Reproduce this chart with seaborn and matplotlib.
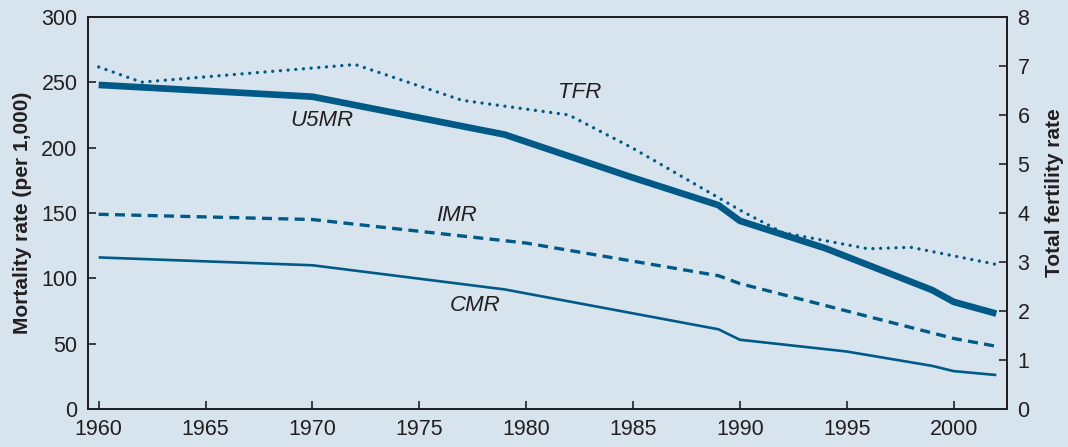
import matplotlib
matplotlib.use('Agg')
import matplotlib.pyplot as plt
import seaborn as sns
import pandas as pd

# ---- valores
anos_u5mr = [1960, 1970, 1979, 1981, 1985, 1989, 1990, 1994, 1999, 2000, 2002]
u5mr = [248, 239, 210, 199, 177, 156, 144, 123, 91, 82, 73]

anos_imr = [1960, 1970, 1980, 1989, 1990, 2000, 2002]
imr = [149, 145, 127, 102, 96, 54, 48]

anos_cmr = [1960, 1970, 1979, 1989, 1990, 1995, 1999, 2000, 2002]
cmr = [116, 110, 91.5, 61, 53, 44, 33, 29, 26]

anos_tfr = [1960, 1962, 1972, 1977, 1982, 1985, 1990, 1992, 1996, 1998, 2002]
tfr = [6.98, 6.67, 7.03, 6.3, 6.0, 5.32, 4.06, 3.6, 3.27, 3.3, 2.95]

xticks = list(range(1960, 2001, 5))
yticks_left = list(range(0, 301, 50))
yticks_right = list(range(0, 9))

# ---- estilo
fundo = '#d7e4ee'
azul = '#005a87'
tinta = '#231f20'

sns.set_style('ticks', rc={'axes.facecolor': fundo, 'figure.facecolor': fundo,
                           'axes.edgecolor': tinta, 'xtick.color': tinta, 'ytick.color': tinta})
plt.rcParams['font.family'] = ['Liberation Sans Narrow', 'Liberation Sans', 'DejaVu Sans']

fig = plt.figure(figsize=(10.68, 4.47), dpi=100)
ax = fig.add_axes([0.0824, 0.085, 0.8605, 0.877])
ax2 = ax.twinx()

df_u5 = pd.DataFrame({'Ano': anos_u5mr, 'Valor': u5mr})
df_imr = pd.DataFrame({'Ano': anos_imr, 'Valor': imr})
df_cmr = pd.DataFrame({'Ano': anos_cmr, 'Valor': cmr})
df_tfr = pd.DataFrame({'Ano': anos_tfr, 'Valor': tfr})

sns.lineplot(data=df_u5, x='Ano', y='Valor', ax=ax, color=azul, lw=4.8,
             solid_capstyle='butt', solid_joinstyle='round')
sns.lineplot(data=df_imr, x='Ano', y='Valor', ax=ax, color=azul, lw=2.4,
             linestyle=(0, (3.0, 1.9)), dash_capstyle='butt')
sns.lineplot(data=df_cmr, x='Ano', y='Valor', ax=ax, color=azul, lw=1.9,
             solid_capstyle='butt')
sns.lineplot(data=df_tfr, x='Ano', y='Valor', ax=ax2, color=azul, lw=2.4,
             linestyle=(0, (0.01, 2.3)), dash_capstyle='round')

# ---- rotulos das series
rot = dict(style='italic', ha='center', va='center', fontsize=16, color=tinta)
ax.text(1970.45, 221, 'U5MR', **rot)
ax.text(1982.5, 242, 'TFR', **rot)
ax.text(1976.75, 148, 'IMR', **rot)
ax.text(1977.6, 79, 'CMR', **rot)

# ---- eixos
ax.set_xlim(1959.5, 2002.5)
ax.set_ylim(0, 300)
ax2.set_ylim(0, 8)
ax.set_xticks(xticks)
ax.set_yticks(yticks_left)
ax2.set_yticks(yticks_right)

for a in (ax, ax2):
    a.tick_params(direction='in', length=5.5, width=1.2, labelsize=15.5, pad=7.5, colors=tinta)
    for s in a.spines.values():
        s.set_visible(True)
        s.set_linewidth(1.4)
        s.set_color(tinta)
ax2.set_facecolor('none')

ax.set_xlabel('')
ax.set_ylabel('Mortality rate (per 1,000)', fontsize=15, fontweight='bold', color=tinta)
ax2.set_ylabel('Total fertility rate', fontsize=15, fontweight='bold', color=tinta)
ax.yaxis.set_label_coords(-0.061, 0.5)
ax2.yaxis.set_label_coords(1.0414, 0.551)

fig.savefig('out.png', dpi=100, facecolor=fundo)
